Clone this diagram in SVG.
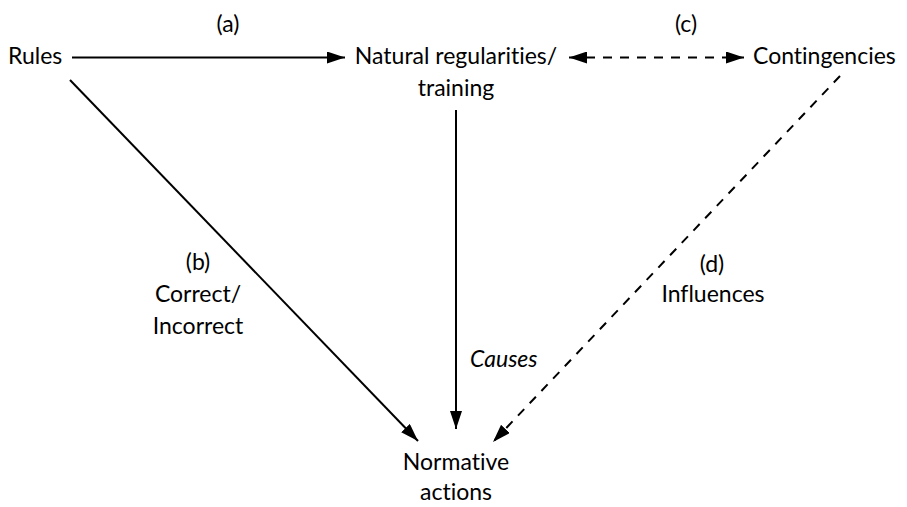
<svg xmlns="http://www.w3.org/2000/svg" width="907" height="507" viewBox="0 0 907 507">
<defs>
<style>
text{font-family:"Lato","Open Sans","Liberation Sans",sans-serif;font-size:23px;fill:#000;font-variant-ligatures:none}
.m{text-anchor:middle}
.ln{stroke:#000;stroke-width:2;fill:none}
.d{stroke-dasharray:9 8}
</style>
<marker id="ah" viewBox="0 0 18 12" refX="18" refY="6" markerWidth="18" markerHeight="12" markerUnits="userSpaceOnUse" orient="auto-start-reverse">
<path d="M0,0 L18,6 L0,12 Z" fill="#000"/>
</marker>
</defs>
<rect width="907" height="507" fill="#fff"/>
<g id="connectors">
<line class="ln" x1="72" y1="57.5" x2="345" y2="57.5" marker-end="url(#ah)"/>
<line class="ln d" x1="569" y1="57.5" x2="744" y2="57.5" marker-start="url(#ah)" marker-end="url(#ah)"/>
<line class="ln" x1="70" y1="80" x2="418" y2="441" marker-end="url(#ah)"/>
<line class="ln" x1="456" y1="110" x2="456" y2="429" marker-end="url(#ah)"/>
<line class="ln d" x1="840" y1="76" x2="493" y2="442" marker-end="url(#ah)"/>
<text class="m" x="228" y="32">(a)</text>
<text class="m" x="686" y="32">(c)</text>
<text class="m" x="198" y="270">(b)</text>
<text class="m" x="198" y="302">Correct/</text>
<text class="m" x="198" y="334">Incorrect</text>
<text x="470" y="367" font-style="italic">Causes</text>
<text class="m" x="712" y="272">(d)</text>
<text class="m" x="713" y="302">Influences</text>
</g>
<g id="rules"><text x="8" y="64">Rules</text></g>
<g id="natural"><text class="m" x="456" y="64">Natural regularities/</text><text class="m" x="456" y="96">training</text></g>
<g id="contingencies"><text x="753" y="64">Contingencies</text></g>
<g id="normative"><text class="m" x="456" y="470">Normative</text><text class="m" x="456" y="500">actions</text></g>
</svg>
